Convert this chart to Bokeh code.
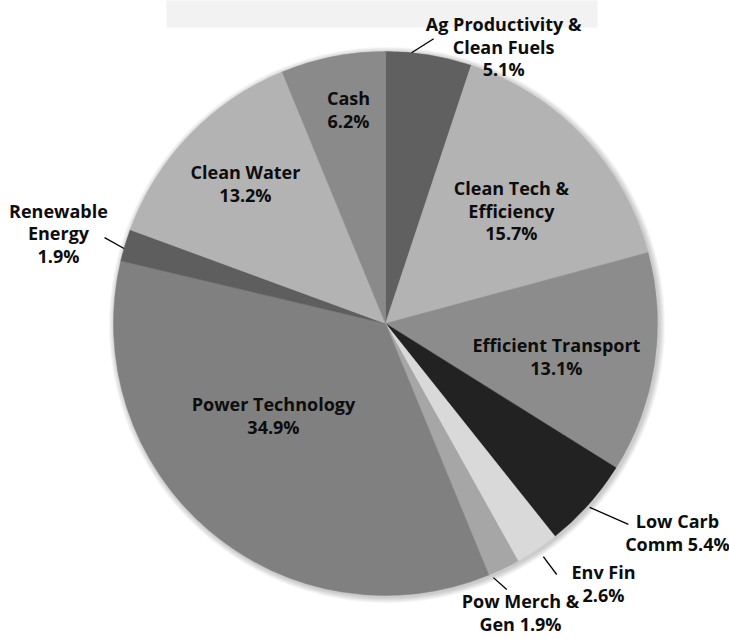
import math
from bokeh.plotting import figure
from bokeh.models import Range1d, ColumnDataSource
from bokeh.core.properties import value
from bokeh.embed import file_html
from bokeh.resources import INLINE

# ---- data ----
categories = ["Ag Productivity & Clean Fuels", "Clean Tech & Efficiency", "Efficient Transport",
              "Low Carb Comm", "Env Fin", "Pow Merch & Gen", "Power Technology",
              "Renewable Energy", "Clean Water", "Cash"]
shares = [5.1, 15.7, 13.1, 5.4, 2.6, 1.9, 34.9, 1.9, 13.2, 6.2]
label_names = ["Ag Productivity &\nClean Fuels", "Clean Tech &\nEfficiency", "Efficient Transport",
               "Low Carb", "Env Fin", "Pow Merch &", "Power Technology",
               "Renewable\nEnergy", "Clean Water", "Cash"]
label_seps = ["\n", "\n", "\n", "\nComm ", "\n", "\nGen ", "\n", "\n", "\n", "\n"]
colors = ["#606060", "#b3b3b3", "#8c8c8c", "#222222", "#d9d9d9", "#a6a6a6", "#808080",
          "#5e5e5e", "#b3b3b3", "#8a8a8a"]

# ---- layout (label placement: clockwise degrees from top, radius factor) ----
label_ang = [23.1, 48.1, 100.9, 125.6, 140.0, 154.96, 230.6, 285.4, 315.0, 350.2]
label_r = [1.107, 0.622, 0.64, 1.320, 1.247, 1.1728, 0.533, 1.247, 0.728, 0.798]
# leader lines: (idx, ang0, r0, ang1, r1)
leaders = [(0, 5.5, 1.0, 9.6, 1.062), (3, 132.0, 1.01, 129.6, 1.159),
           (4, 145.9, 1.035, 145.7, 1.117), (5, 157.0, 1.015, 155.5, 1.075),
           (7, 286.0, 1.0, 287.0, 1.08)]

W, H = 729, 639
R_PX = 272.0
CX, CY = 385.0, 323.0  # pie center in figure pixels (from top-left)

p = figure(width=W, height=H, output_backend="svg", toolbar_location=None,
           x_range=Range1d(-CX / R_PX, (W - CX) / R_PX),
           y_range=Range1d(-(H - CY) / R_PX, CY / R_PX),
           min_border=0, min_border_left=0, min_border_right=0,
           min_border_top=0, min_border_bottom=0)
p.axis.visible = False
p.grid.visible = False
p.outline_line_color = None
p.background_fill_color = "white"
p.border_fill_color = "white"

# title box (empty chart title area)
px = 1.0 / R_PX
p.quad(left=[(166 - CX) * px], right=[(597 - CX) * px], bottom=[(CY - 27) * px],
       top=[(CY + 5) * px], fill_color="#f2f2f2", line_color=None)

# soft shadow
for k in range(1, 7):
    p.circle(x=[1.5 * px], y=[-1.5 * px], radius=1.0 + k * px, fill_color="black",
             fill_alpha=0.035, line_color=None)

total = sum(shares)
starts, ends = [], []
cum = 0.0
for v in shares:
    a0 = math.pi / 2 - 2 * math.pi * cum / total
    cum += v
    a1 = math.pi / 2 - 2 * math.pi * cum / total
    starts.append(a0)
    ends.append(a1)
src = ColumnDataSource(dict(cat=categories, share=shares, start=starts, end=ends, color=colors))
p.wedge(x=0, y=0, radius=1.0, start_angle="start", end_angle="end", direction="clock",
        fill_color="color", line_color="color", line_width=0.5, source=src)

def polar(ang_deg, r):
    a = math.radians(ang_deg)
    return r * math.sin(a), r * math.cos(a)

lx, ly, lt = [], [], []
for i, v in enumerate(shares):
    x, y = polar(label_ang[i], label_r[i])
    lx.append(x)
    ly.append(y)
    lt.append(f"{label_names[i]}{label_seps[i]}{v:.1f}%")
p.text(x=lx, y=ly, text=lt, text_align="center", text_baseline="middle",
       text_font=value("Open Sans"), text_font_style="bold", text_font_size="18px",
       text_color="#0d0d0d", text_line_height=0.95)

x0, y0, x1, y1 = [], [], [], []
for (_, a0, r0, a1, r1) in leaders:
    ax, ay = polar(a0, r0)
    bx, by = polar(a1, r1)
    x0.append(ax); y0.append(ay); x1.append(bx); y1.append(by)
p.segment(x0=x0, y0=y0, x1=x1, y1=y1, line_color="black", line_width=1.3)

open("out.html", "w").write(file_html(p, INLINE))
